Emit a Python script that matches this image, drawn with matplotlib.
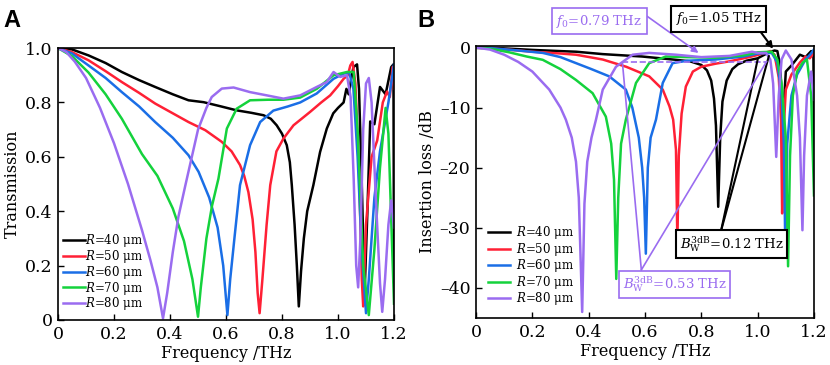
import matplotlib
matplotlib.use("Agg")
import matplotlib.pyplot as plt
from matplotlib.ticker import FuncFormatter

plt.rcParams['font.family'] = ['DejaVu Serif']
plt.rcParams['mathtext.fontset'] = 'dejavuserif'

# Data Sets
labels = ["$R$=40 μm", "$R$=50 μm", "$R$=60 μm", "$R$=70 μm", "$R$=80 μm"]
colors = ["#000000", "#ff2035", "#1a6ee6", "#14d23c", "#9a6cf0"]

# panel A: transmission
f_a40 = [0, 0.05, 0.109, 0.17, 0.228, 0.29, 0.347, 0.41, 0.466, 0.52, 0.58, 0.638, 0.69, 0.734, 0.76, 0.781,
         0.8, 0.817, 0.828, 0.835, 0.845, 0.853, 0.86, 0.868, 0.878, 0.89, 0.912, 0.936, 0.96, 0.983, 1.0,
         1.02, 1.03, 1.038, 1.046, 1.055, 1.068, 1.075, 1.085, 1.095, 1.105, 1.115, 1.13, 1.15, 1.17, 1.19,
         1.198, 1.2]
t_a40 = [1.0, 0.995, 0.973, 0.945, 0.912, 0.882, 0.857, 0.83, 0.808, 0.801, 0.786, 0.771, 0.762, 0.753, 0.74,
         0.716, 0.685, 0.643, 0.58, 0.496, 0.35, 0.2, 0.05, 0.18, 0.3, 0.4, 0.496, 0.618, 0.704, 0.76, 0.78,
         0.80, 0.85, 0.83, 0.88, 0.93, 0.94, 0.85, 0.5, 0.1, 0.4, 0.73, 0.72, 0.857, 0.83, 0.93, 0.94, 0.14]
f_a50 = [0, 0.05, 0.109, 0.17, 0.228, 0.29, 0.347, 0.41, 0.466, 0.526, 0.585, 0.62, 0.65, 0.665, 0.68, 0.695,
         0.705, 0.713, 0.72, 0.73, 0.745, 0.758, 0.78, 0.805, 0.841, 0.87, 0.9, 0.94, 0.972, 1.0, 1.02, 1.035,
         1.044, 1.052, 1.062, 1.075, 1.085, 1.09, 1.1, 1.12, 1.14, 1.16, 1.175, 1.185, 1.195, 1.2]
t_a50 = [1.0, 0.985, 0.955, 0.915, 0.875, 0.835, 0.796, 0.76, 0.728, 0.698, 0.655, 0.62, 0.57, 0.53, 0.47, 0.37,
         0.25, 0.1, 0.025, 0.15, 0.35, 0.496, 0.62, 0.667, 0.716, 0.74, 0.765, 0.8, 0.826, 0.86, 0.887, 0.9,
         0.936, 0.949, 0.87, 0.55, 0.15, 0.05, 0.35, 0.6, 0.66, 0.8, 0.84, 0.82, 0.93, 0.85]
f_a60 = [0, 0.05, 0.109, 0.17, 0.228, 0.29, 0.347, 0.41, 0.466, 0.502, 0.54, 0.57, 0.59, 0.605, 0.615, 0.63,
         0.65, 0.686, 0.722, 0.769, 0.82, 0.865, 0.924, 0.984, 1.02, 1.04, 1.055, 1.07, 1.085, 1.1, 1.11, 1.13,
         1.15, 1.18, 1.2]
t_a60 = [1.0, 0.98, 0.936, 0.89, 0.838, 0.785, 0.728, 0.67, 0.606, 0.545, 0.45, 0.34, 0.2, 0.018, 0.15, 0.3,
         0.496, 0.643, 0.728, 0.77, 0.785, 0.80, 0.833, 0.887, 0.906, 0.91, 0.85, 0.6, 0.25, 0.025, 0.15, 0.45,
         0.62, 0.8, 0.94]
f_a70 = [0, 0.05, 0.109, 0.17, 0.228, 0.3, 0.355, 0.41, 0.45, 0.48, 0.5, 0.51, 0.53, 0.55, 0.573, 0.603, 0.638,
         0.686, 0.75, 0.805, 0.865, 0.924, 0.984, 1.032, 1.056, 1.07, 1.09, 1.11, 1.13, 1.15, 1.17, 1.18, 1.2]
t_a70 = [1.0, 0.97, 0.91, 0.83, 0.74, 0.61, 0.53, 0.41, 0.29, 0.15, 0.012, 0.12, 0.3, 0.42, 0.52, 0.704, 0.777,
         0.808, 0.81, 0.81, 0.818, 0.85, 0.90, 0.912, 0.912, 0.7, 0.2, 0.018, 0.26, 0.56, 0.78, 0.685, 0.06]
f_a80 = [0, 0.03, 0.06, 0.1, 0.15, 0.2, 0.25, 0.3, 0.33, 0.355, 0.375, 0.39, 0.41, 0.43, 0.455, 0.5, 0.53, 0.549,
         0.585, 0.627, 0.686, 0.746, 0.805, 0.865, 0.924, 0.96, 0.984, 1.008, 1.032, 1.045, 1.056, 1.065, 1.072,
         1.08, 1.09, 1.1, 1.11, 1.12, 1.135, 1.15, 1.158, 1.168, 1.18, 1.19, 1.2]
t_a80 = [1.0, 0.985, 0.95, 0.89, 0.78, 0.65, 0.50, 0.33, 0.22, 0.12, 0.006, 0.1, 0.25, 0.38, 0.496, 0.70, 0.78,
         0.82, 0.851, 0.855, 0.838, 0.826, 0.814, 0.826, 0.857, 0.875, 0.912, 0.894, 0.90, 0.82, 0.52, 0.2, 0.12,
         0.3, 0.7, 0.87, 0.89, 0.8, 0.45, 0.135, 0.03, 0.15, 0.35, 0.44, 0.34]

# panel B: insertion loss in dB
f_b40 = [0, 0.05, 0.1, 0.2, 0.3, 0.355, 0.45, 0.59, 0.71, 0.76, 0.8, 0.82, 0.835, 0.845, 0.852, 0.86, 0.867,
         0.875, 0.89, 0.91, 0.93, 0.96, 1.0, 1.02, 1.04, 1.06, 1.07, 1.08, 1.09, 1.1, 1.12, 1.15, 1.17, 1.19,
         1.198, 1.2]
d_b40 = [0, -0.05, -0.15, -0.4, -0.6, -0.7, -1.1, -1.5, -2.05, -2.3, -2.9, -3.8, -5.5, -8.5, -13, -26.5, -15,
         -9, -5.5, -3.6, -2.8, -2.2, -1.8, -1.3, -0.8, -0.5, -0.6, -3, -12, -4, -3, -1.2, -1.6, -0.6, -0.8, -17]
f_b50 = [0, 0.1, 0.2, 0.3, 0.355, 0.45, 0.533, 0.615, 0.663, 0.687, 0.7, 0.71, 0.715, 0.72, 0.73, 0.745, 0.77,
         0.8, 0.85, 0.9, 0.97, 1.02, 1.045, 1.06, 1.075, 1.083, 1.087, 1.092, 1.1, 1.12, 1.15, 1.17, 1.185, 1.2]
d_b50 = [0, -0.3, -0.7, -1.0, -1.2, -2.0, -3.2, -4.8, -7.0, -9.8, -12, -17, -32.4, -18, -11, -6.5, -4, -3.2,
         -2.7, -2.3, -1.6, -1.0, -0.6, -1.2, -5, -12, -27.6, -14, -7, -4.5, -2.5, -1.5, -1.8, -0.9]
f_b60 = [0, 0.05, 0.1, 0.15, 0.237, 0.3, 0.355, 0.41, 0.473, 0.532, 0.555, 0.578, 0.59, 0.597, 0.603, 0.61,
         0.62, 0.639, 0.663, 0.698, 0.75, 0.85, 0.95, 1.0, 1.05, 1.07, 1.085, 1.093, 1.098, 1.105, 1.12, 1.14,
         1.17, 1.19, 1.2]
d_b60 = [0, -0.1, -0.3, -0.5, -0.9, -1.6, -2.6, -3.6, -4.8, -7.0, -10, -15, -20, -25, -34.3, -20, -15, -12,
         -5.9, -2.6, -2.2, -2.0, -1.5, -1.0, -0.9, -2.5, -8, -16, -32.7, -16, -8, -4.5, -2, -1, -0.3]
f_b70 = [0, 0.05, 0.118, 0.18, 0.237, 0.3, 0.355, 0.414, 0.461, 0.48, 0.49, 0.498, 0.505, 0.515, 0.532,
         0.568, 0.615, 0.674, 0.75, 0.85, 0.95, 1.0, 1.05, 1.07, 1.085, 1.1, 1.108, 1.115, 1.125, 1.14, 1.16,
         1.175, 1.19, 1.2]
d_b70 = [0, -0.2, -0.8, -1.5, -2.05, -3.6, -5.4, -7.6, -11.5, -16, -22, -38.5, -25, -16, -12, -5.9, -2.6,
         -1.5, -1.6, -1.7, -1.3, -0.8, -0.7, -2, -6, -15, -36.4, -18, -8, -4, -2.5, -2.0, -8, -24.6]
f_b80 = [0, 0.05, 0.1, 0.15, 0.2, 0.26, 0.3, 0.319, 0.34, 0.355, 0.365, 0.377, 0.385, 0.395, 0.41, 0.426,
         0.45, 0.497, 0.556, 0.615, 0.71, 0.8, 0.9, 0.98, 1.0, 1.03, 1.045, 1.055, 1.066, 1.075, 1.085, 1.1,
         1.12, 1.14, 1.15, 1.159, 1.165, 1.175, 1.19, 1.2]
d_b80 = [0, -0.35, -1.2, -2.4, -4.0, -7.0, -10, -12, -15, -19, -25, -44, -26, -19, -15, -12, -7, -3.2, -1.2,
         -0.9, -1.2, -1.6, -1.4, -0.7, -0.9, -0.9, -2, -6, -18.2, -8, -2, -0.5, -2, -8, -15, -30.4, -18, -8, -4,
         -8.7]

freq_a = [f_a40, f_a50, f_a60, f_a70, f_a80]
trans = [t_a40, t_a50, t_a60, t_a70, t_a80]
freq_b = [f_b40, f_b50, f_b60, f_b70, f_b80]
loss = [d_b40, d_b50, d_b60, d_b70, d_b80]

xticks = [0, 0.2, 0.4, 0.6, 0.8, 1.0, 1.2]


def fmt(v, pos):
    if abs(v) < 1e-9:
        return "0"
    return "%.1f" % v


def fmt_int(v, pos):
    if abs(v) < 1e-9:
        return "0"
    return "\u2013%d" % abs(v)


def style_axes(ax):
    ax.tick_params(direction='in', top=False, right=False, labelsize=12.5, length=4, width=1, pad=4)
    for s in ax.spines.values():
        s.set_linewidth(1.2)
    ax.set_xlim(0, 1.2)
    ax.set_xticks(xticks)
    ax.xaxis.set_major_formatter(FuncFormatter(fmt))
    ax.set_xlabel("Frequency /THz", fontsize=11.5, labelpad=2)


fig = plt.figure(figsize=(8.3, 3.65), dpi=100)
ax1 = fig.add_axes([0.0699, 0.1233, 0.4048, 0.745])
ax2 = fig.add_axes([0.5735, 0.1288, 0.4072, 0.746])

# Panel A
for f, t, c, lb in zip(freq_a, trans, colors, labels):
    ax1.plot(f, t, color=c, lw=1.8, label=lb)
style_axes(ax1)
ax1.set_ylim(0, 1.0)
ax1.set_yticks([0, 0.2, 0.4, 0.6, 0.8, 1.0])
ax1.yaxis.set_major_formatter(FuncFormatter(fmt))
ax1.set_ylabel("Transmission", fontsize=11.5, labelpad=3)
ax1.legend(loc='lower left', bbox_to_anchor=(0.015, 0.028), frameon=False, fontsize=8.5, handlelength=1.9,
           handletextpad=0.0, labelspacing=-0.1, borderpad=0, borderaxespad=0)

# Panel B
for f, d, c, lb in zip(freq_b, loss, colors, labels):
    ax2.plot(f, d, color=c, lw=1.8, label=lb)
style_axes(ax2)
ax2.set_ylim(-45, 0.3)
ax2.set_yticks([0, -10, -20, -30, -40])
ax2.yaxis.set_major_formatter(FuncFormatter(fmt_int))
ax2.set_ylabel("Insertion loss /dB", fontsize=11.5, labelpad=3)
ax2.legend(loc='lower left', bbox_to_anchor=(0.035, 0.04), frameon=False, fontsize=8.5, handlelength=1.9,
           handletextpad=0.5, labelspacing=-0.05, borderpad=0, borderaxespad=0)

# annotations
purple = colors[4]
ax2.plot([0.52, 1.03], [-2.4, -2.4], color=purple, lw=1.2, ls='--')
ax2.annotate("$f_0$=0.79 THz", xy=(0.79, -0.9), xytext=(0.437, 4.4), textcoords='data', color=purple,
             fontsize=9.5, ha='center', va='center', annotation_clip=False,
             bbox=dict(boxstyle='square,pad=0.35', fc='white', ec=purple, lw=1.2),
             arrowprops=dict(arrowstyle='-|>', color=purple, lw=1.2, shrinkA=0, shrinkB=0,
                             relpos=(1.0, 1.0)))
ax2.annotate("$f_0$=1.05 THz", xy=(1.055, -0.2), xytext=(0.861, 4.8), textcoords='data', color='black',
             fontsize=9.5, ha='center', va='center', annotation_clip=False,
             bbox=dict(boxstyle='square,pad=0.35', fc='white', ec='black', lw=1.5),
             arrowprops=dict(arrowstyle='-|>', color='black', lw=1.5, shrinkA=0, shrinkB=0,
                             relpos=(0.95, 0.0)))
for px in [(1.0, -2.0), (1.04, -1.4)]:
    ax2.annotate("", xy=px, xytext=(0.87, -30.5),
                 arrowprops=dict(arrowstyle='-', color='black', lw=1.5, shrinkA=0, shrinkB=0))
ax2.text(0.907, -32.7, "$B_\\mathrm{W}^\\mathrm{3dB}$=0.12 THz", fontsize=9.5, ha='center', va='center',
         bbox=dict(boxstyle='square,pad=0.3', fc='white', ec='black', lw=1.5))
for px in [(0.52, -2.6), (1.032, -2.3)]:
    ax2.annotate("", xy=px, xytext=(0.587, -37.0),
                 arrowprops=dict(arrowstyle='-', color=purple, lw=1.2, shrinkA=0, shrinkB=0))
ax2.text(0.705, -39.4, "$B_\\mathrm{W}^\\mathrm{3dB}$=0.53 THz", fontsize=9.5, ha='center', va='center',
         color=purple, bbox=dict(boxstyle='square,pad=0.3', fc='white', ec=purple, lw=1.2))

fig.text(0.004, 0.975, "A", fontsize=17, fontweight='bold', family='Liberation Sans', va='top')
fig.text(0.503, 0.975, "B", fontsize=17, fontweight='bold', family='Liberation Sans', va='top')

fig.savefig("out.png", dpi=100)
